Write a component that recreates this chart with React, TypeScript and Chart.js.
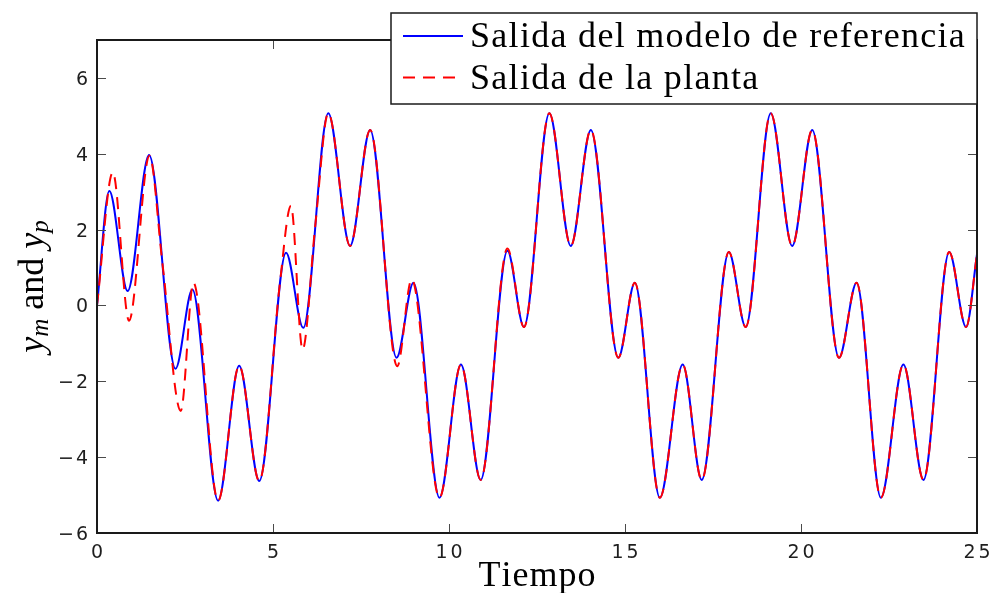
import React, { useEffect, useRef } from 'react';
import { Chart, registerables } from 'chart.js';

Chart.register(...registerables);

// ---- data ----
const tModel = [0, 0.35, 0.87, 1.48, 2.23, 2.71, 3.44, 4.04, 4.61, 5.37, 5.86, 6.57, 7.19, 7.76, 8.51, 8.99, 9.73, 10.34, 10.90, 11.66, 12.13, 12.85, 13.46, 14.03, 14.81, 15.28, 15.99, 16.64, 17.18, 17.95, 18.43, 19.14, 19.75, 20.32, 21.08, 21.58, 22.27, 22.91, 23.48, 24.21, 24.69, 25.00];
const yModel = [0, 3.02, 0.38, 3.97, -1.67, 0.42, -5.15, -1.59, -4.63, 1.39, -0.59, 5.07, 1.57, 4.63, -1.38, 0.60, -5.07, -1.56, -4.60, 1.44, -0.57, 5.07, 1.57, 4.63, -1.38, 0.60, -5.07, -1.56, -4.60, 1.41, -0.57, 5.07, 1.57, 4.63, -1.38, 0.60, -5.07, -1.56, -4.60, 1.41, -0.57, 1.35];

const tPlant = [0, 0.45, 0.91, 1.49, 1.86, 2.38, 2.74, 3.44, 4.04, 4.61, 5.20, 5.51, 5.84, 6.20, 6.57, 7.19, 7.76, 8.53, 8.94, 9.73, 10.34, 10.90, 11.66, 12.13, 12.85, 13.46, 14.03, 14.81, 15.28, 15.99, 16.64, 17.18, 17.95, 18.43, 19.14, 19.75, 20.32, 21.08, 21.58, 22.27, 22.91, 23.48, 24.21, 24.69, 25.00];
const yPlant = [0, 3.51, -0.40, 3.95, 1.10, -2.78, 0.60, -5.15, -1.59, -4.63, 0.62, 2.63, -1.16, 2.10, 5.07, 1.57, 4.63, -1.60, 0.69, -5.07, -1.56, -4.60, 1.50, -0.57, 5.07, 1.57, 4.63, -1.38, 0.60, -5.07, -1.56, -4.60, 1.41, -0.57, 5.07, 1.57, 4.63, -1.38, 0.60, -5.07, -1.56, -4.60, 1.41, -0.57, 1.35];

const xTicks = [0, 5, 10, 15, 20, 25];
const xTickLabels = ['0', '5', '10', '15', '20', '25'];
const yTicks = [-6, -4, -2, 0, 2, 4, 6];
const yTickLabels = ['\u22126', '\u22124', '\u22122', '0', '2', '4', '6'];
const seriesLabels = ['Salida del modelo de referencia', 'Salida de la planta'];
const xTitle = 'Tiempo';
const X_MIN = 0, X_MAX = 25, Y_MIN = -6, Y_MAX = 7;

const W = 995, H = 593;
const SERIF = '"Liberation Serif", "Times New Roman", serif';
const SANS = '"DejaVu Sans", sans-serif';

function drawSpaced(ctx: CanvasRenderingContext2D, text: string, x: number, y: number, spacing: number, align: 'left' | 'center' | 'right') {
  const chars = Array.from(text);
  const widths = chars.map((c) => ctx.measureText(c).width);
  const total = widths.reduce((a, b) => a + b, 0) + spacing * (chars.length - 1);
  let cx = align === 'left' ? x : align === 'center' ? x - total / 2 : x - total;
  ctx.textAlign = 'left';
  chars.forEach((c, i) => {
    ctx.fillText(c, cx, y);
    cx += widths[i] + spacing;
  });
}

const matlabPlugin = {
  id: 'matlabLook',
  afterDraw(chart: any) {
    const { ctx, chartArea: a, scales } = chart;
    const xs = scales.x, ys = scales.y;
    ctx.save();

    // inward ticks on all four sides
    ctx.strokeStyle = '#4a4a4a';
    ctx.lineWidth = 1;
    ctx.beginPath();
    xTicks.forEach((v) => {
      const px = Math.round(xs.getPixelForValue(v)) + 0.5;
      ctx.moveTo(px, a.bottom); ctx.lineTo(px, a.bottom - 9);
      ctx.moveTo(px, a.top); ctx.lineTo(px, a.top + 9);
    });
    yTicks.forEach((v) => {
      const py = Math.round(ys.getPixelForValue(v)) + 0.5;
      ctx.moveTo(a.left, py); ctx.lineTo(a.left + 9, py);
      ctx.moveTo(a.right, py); ctx.lineTo(a.right - 9, py);
    });
    ctx.stroke();

    // frame
    ctx.strokeStyle = '#1a1a1a';
    ctx.lineWidth = 2;
    ctx.strokeRect(a.left, a.top, a.right - a.left, a.bottom - a.top);

    // tick labels
    ctx.fillStyle = '#1e1e1e';
    ctx.font = '19px ' + SANS;
    ctx.textBaseline = 'alphabetic';
    xTicks.forEach((v, i) => {
      drawSpaced(ctx, xTickLabels[i], xs.getPixelForValue(v), a.bottom + 24.5, 3, 'center');
    });
    yTicks.forEach((v, i) => {
      drawSpaced(ctx, yTickLabels[i], a.left - 9, ys.getPixelForValue(v) + 7, 2, 'right');
    });

    // x title
    ctx.fillStyle = '#000';
    ctx.font = '36px ' + SERIF;
    ctx.textBaseline = 'alphabetic';
    drawSpaced(ctx, xTitle, (a.left + a.right) / 2, 586, 1, 'center');

    // y title: y_m and y_p (rotated)
    const parts = [
      { t: 'y', f: 'italic 36px ' + SERIF, dy: 0 },
      { t: 'm', f: 'italic 25px ' + SERIF, dy: 5 },
      { t: ' and ', f: '36px ' + SERIF, dy: 0 },
      { t: 'y', f: 'italic 36px ' + SERIF, dy: 0 },
      { t: 'p', f: 'italic 25px ' + SERIF, dy: 5 },
    ];
    const widths = parts.map((p) => { ctx.font = p.f; return ctx.measureText(p.t).width; });
    const total = widths.reduce((s, w) => s + w, 0);
    ctx.save();
    ctx.translate(42.5, (a.top + a.bottom) / 2);
    ctx.rotate(-Math.PI / 2);
    ctx.textAlign = 'left';
    let u = -total / 2;
    parts.forEach((p, i) => {
      ctx.font = p.f;
      ctx.fillText(p.t, u, p.dy);
      u += widths[i];
    });
    ctx.restore();

    // legend box
    const lx0 = 391, lx1 = a.right, ly0 = 13, ly1 = 104;
    ctx.fillStyle = '#fff';
    ctx.fillRect(lx0, ly0, lx1 - lx0, ly1 - ly0);
    ctx.strokeStyle = '#1a1a1a';
    ctx.lineWidth = 1.5;
    ctx.strokeRect(lx0, ly0, lx1 - lx0, ly1 - ly0);
    const rows = [36, 77.5];
    chart.data.datasets.forEach((ds: any, i: number) => {
      const cy = rows[i];
      ctx.strokeStyle = ds.borderColor;
      ctx.lineWidth = ds.borderWidth;
      ctx.setLineDash(ds.borderDash || []);
      ctx.beginPath();
      ctx.moveTo(403, cy);
      ctx.lineTo(463, cy);
      ctx.stroke();
      ctx.setLineDash([]);
      ctx.fillStyle = '#000';
      ctx.font = '36px ' + SERIF;
      ctx.textBaseline = 'alphabetic';
      drawSpaced(ctx, ds.label, 470, cy + 11, 1.3, 'left');
    });

    ctx.restore();
  },
};

export default function App() {
  const canvasRef = useRef<HTMLCanvasElement | null>(null);

  useEffect(() => {
    const canvas = canvasRef.current;
    if (!canvas) return;
    const chart = new Chart(canvas, {
      type: 'line',
      data: {
        datasets: [
          {
            label: seriesLabels[0],
            data: tModel.map((t, i) => ({ x: t, y: yModel[i] })),
            borderColor: '#0000ff',
            borderWidth: 2,
            pointRadius: 0,
            cubicInterpolationMode: 'monotone',
            fill: false,
            order: 2,
          },
          {
            label: seriesLabels[1],
            data: tPlant.map((t, i) => ({ x: t, y: yPlant[i] })),
            borderColor: '#ff0000',
            borderWidth: 2,
            borderDash: [12, 8],
            pointRadius: 0,
            cubicInterpolationMode: 'monotone',
            fill: false,
            order: 1,
          },
        ],
      },
      options: {
        animation: false,
        responsive: false,
        maintainAspectRatio: false,
        events: [],
        layout: { padding: { left: 0, right: 18, top: 40, bottom: 0 } },
        plugins: { legend: { display: false }, tooltip: { enabled: false }, title: { display: false } },
        scales: {
          x: {
            type: 'linear',
            min: X_MIN,
            max: X_MAX,
            grid: { display: false },
            border: { display: false },
            ticks: { display: false },
            afterBuildTicks: (s: any) => { s.ticks = xTicks.map((v) => ({ value: v })); },
            afterFit: (s: any) => { s.height = 60; },
          },
          y: {
            type: 'linear',
            min: Y_MIN,
            max: Y_MAX,
            grid: { display: false },
            border: { display: false },
            ticks: { display: false },
            afterBuildTicks: (s: any) => { s.ticks = yTicks.map((v) => ({ value: v })); },
            afterFit: (s: any) => { s.width = 97; },
          },
        },
      } as any,
      plugins: [matlabPlugin],
    });
    return () => chart.destroy();
  }, []);

  return (
    <div style={{ position: 'fixed', left: 0, top: 0, width: W, height: H, background: '#fff' }}>
      <canvas ref={canvasRef} width={W} height={H} style={{ display: 'block', width: W, height: H }} />
    </div>
  );
}
